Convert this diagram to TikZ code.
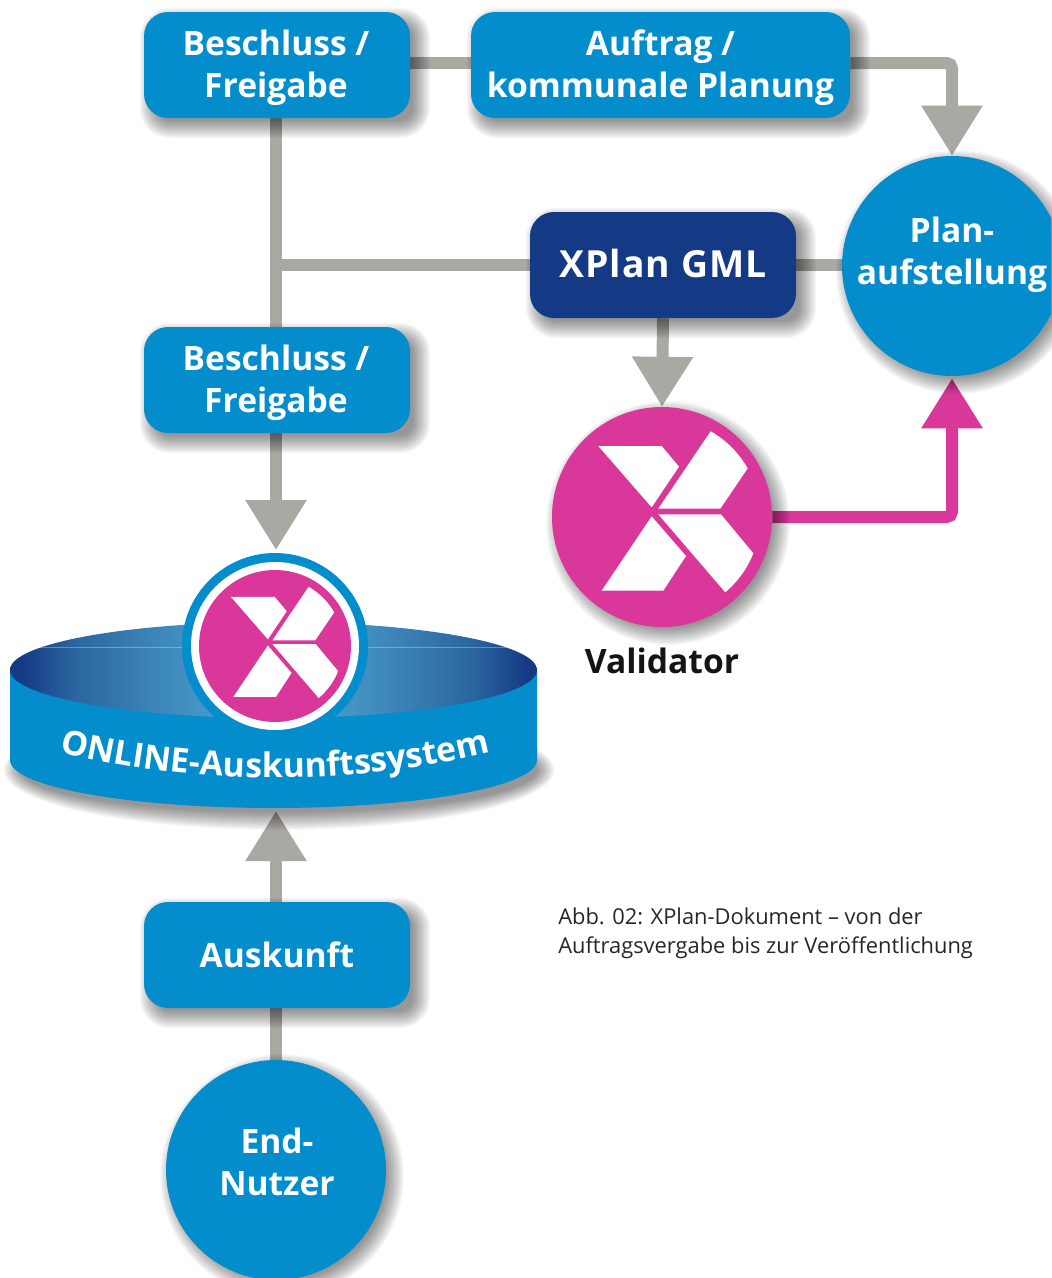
\documentclass[tikz,border=0pt]{standalone}
\usepackage{fontspec}
\setmainfont{Open Sans}
\usetikzlibrary{arrows.meta,calc,decorations.text}
\definecolor{xblue}{HTML}{038DCC}
\definecolor{xnavy}{HTML}{153A85}
\definecolor{xgrey}{HTML}{A9A8A2}
\definecolor{xpink}{HTML}{D9379A}
\definecolor{bowlb}{HTML}{2A659F}
\definecolor{bowlc}{HTML}{3D86BA}
\definecolor{bowld}{HTML}{4BA3D0}
\pgfdeclarelayer{conn}
\pgfdeclarelayer{shad}
\pgfsetlayers{conn,shad,main}
\pgfdeclarehorizontalshading{bowl}{100bp}{color(0bp)=(xnavy); color(26bp)=(xnavy); color(31bp)=(bowlb); color(39bp)=(bowlc); color(47bp)=(bowld); color(53bp)=(bowld); color(61bp)=(bowlc); color(69bp)=(bowlb); color(74bp)=(xnavy); color(100bp)=(xnavy)}
\newcommand\lbl{\fontsize{25.2pt}{31.5pt}\selectfont\bfseries}
\newcommand\bandfont{\fontsize{25.4pt}{26pt}\selectfont\bfseries\color{white}}
\newcommand\rectshadow[1]{\foreach \e in {-6,-5,...,12}{\fill[black,fill opacity=.026,rounded corners={(18+\e)*.75pt}] ($(#1.north west)+({8-(\e)},{8-(\e)})$) rectangle ($(#1.south east)+({8+\e},{8+\e})$);}}
\newcommand\circshadow[1]{\foreach \e in {-6,-5,...,12}{\fill[black,fill opacity=.026] ($(#1.center)+(6,6)$) circle ({110+\e});}}
\newcommand\xlogo[2]{\begin{scope}[shift={(#1)},scale=#2]
\fill[white] (-191,-213) -- (-1,-213) -- (51,-151) -- (-31,-29) -- cycle;
\fill[white] (146,-257) arc[start angle=-60.4,end angle=-29.6,radius=295.6] -- (175,-25) -- (-11,-25) -- cycle;
\fill[white] (-11,-8) -- (177,-8) -- (274,109) arc[start angle=21.7,end angle=49.9,radius=295.6] -- cycle;
\fill[white] (-31,-2) -- (72,117) -- (4,221) -- (-181,221) -- cycle;
\end{scope}}
\tikzset{
 boxnode/.style={fill=xblue,text=white,rounded corners=18pt,minimum height=79.5pt,inner sep=0pt,align=center,font=\lbl},
 boxtext/.style={text=white,inner sep=0pt,align=center,font=\lbl},
 roundnode/.style={circle,fill=xblue,minimum size=165pt,inner sep=0pt},
 wire/.style={xgrey,line width=9pt,rounded corners=4pt},
 tipped/.style={-{Triangle[width=43.5pt,length=37.5pt]}}
}
\begin{document}
\begin{tikzpicture}[x=.75pt,y=-.75pt]
\useasboundingbox (0,0) rectangle (1051,1278);
\clip (0,0) rectangle (1051,1278);
% band
\path[fill=xblue] (10,670) -- (10,760) arc[start angle=180,end angle=0,x radius=263.5,y radius=48] -- (537,670) -- cycle;
\path[shading=bowl] (273.5,670) ellipse[x radius=263.5,y radius=48];
\draw[white,opacity=.3,line width=.5pt] (36,647) -- (511,647);
\coordinate (bandbottom) at (276,811);
% nodes
\node[boxnode,minimum width=199.5pt] (b1) at (277,65) {};
\node[boxtext] (b1text) at (276,68) {Beschluss /\\Freigabe};
\node[boxnode,minimum width=284.25pt] (auf) at (660.5,65) {};
\node[boxtext] (auftext) at (660.5,68) {Auftrag /\\kommunale Planung};
\node[boxnode,minimum width=199.5pt,fill=xnavy] (gml) at (663,265) {};
\node[boxtext,font=\fontsize{28pt}{32pt}\selectfont\bfseries\addfontfeatures{LetterSpace=3}] (gmltext) at (663,263) {XPlan GML};
\node[roundnode] (plan) at (952,266) {};
\node[boxtext] (plantext) at (952,255) {Plan-\\aufstellung};
\node[boxnode,minimum width=199.5pt] (b2) at (277,380) {};
\node[boxtext] (b2text) at (276,383) {Beschluss /\\Freigabe};
\node[circle,fill=xpink,minimum size=165pt,inner sep=0pt] (val) at (662,517) {};
\xlogo{662,517}{.3333}
\node[font=\lbl,text=black!92] (vallbl) at (662,661) {Validator};
\node[circle,fill=xblue,minimum size=139.5pt,inner sep=0pt] (ring) at (275,646) {};
\node[circle,fill=white,minimum size=126pt,inner sep=0pt] (ringw) at (275,646) {};
\node[circle,fill=xpink,minimum size=114pt,inner sep=0pt] (ringp) at (275,646) {};
\xlogo{275,646}{.2303}
\path[decorate,decoration={text along path,text align=center,text={|\bandfont|ONLINE-Auskunftssystem}}] (48,749) .. controls (190,787) and (360,787) .. (502,749);
\node[boxnode,minimum width=199.5pt] (ausk) at (277,955) {};
\node[boxtext] (ausktext) at (277,955) {Auskunft};
\node[roundnode] (end) at (276,1170) {};
\node[boxtext] (endtext) at (277,1162) {End-\\Nutzer};
\node[anchor=north west,align=left,inner sep=0pt,text=black!85,font=\fontsize{16.4pt}{21.75pt}\selectfont] (cap) at (558,908) {Abb. 02: XPlan-Dokument – von der\\Auftragsvergabe bis zur Veröffentlichung};
% shadows
\begin{pgfonlayer}{shad}
\rectshadow{b1}\rectshadow{auf}\rectshadow{gml}\rectshadow{b2}\rectshadow{ausk}
\circshadow{plan}\circshadow{val}\circshadow{end}
\foreach \e in {-6,-5,...,12}{\fill[black,fill opacity=.026] (279,770) ellipse[x radius={263.5+\e},y radius={48+\e}];}
\end{pgfonlayer}
% connectors
\begin{pgfonlayer}{conn}
\draw[wire] ($(b1.east)+(0,-2)$) -- ($(auf.west)+(0,-2)$);
\draw[wire,tipped] ($(auf.east)+(0,-2)$) -| (plan.north);
\draw[wire] (b1.south -| 276,0) -- (b2.north -| 276,0);
\draw[wire] (gml.west) -- (276,265);
\draw[wire] (gml.east) -- (plan.west |- gml.east);
\draw[wire,tipped] (gml.south) -- (val.north);
\draw[wire,tipped,shorten >=2pt] (b2.south -| 276,0) -- (ring.north -| 276,0);
\draw[wire,tipped] (ausk.north -| 276,0) -- (bandbottom);
\draw[wire] (ausk.south -| 276,0) -- (end.north);
\draw[wire,xpink,tipped,shorten >=1.5pt] (val.east) -| (plan.south);
\end{pgfonlayer}
\end{tikzpicture}
\end{document}
